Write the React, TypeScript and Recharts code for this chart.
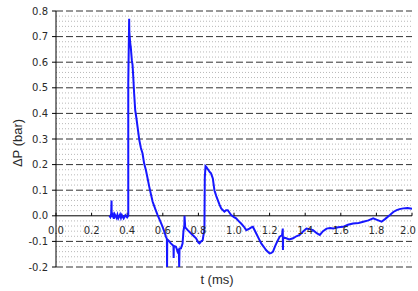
import React from 'react'
import {
  LineChart, Line, XAxis, YAxis, ReferenceLine,
} from 'recharts'

const COLORS = {
  trace: '#1717ff',
  ink: '#000000',
  text: '#2a2a2a',
  major: '#333333',
  minor: '#b8b8b8',
}

// time (ms) and pressure (bar)
const T = [
  0.300, 0.305, 0.310, 0.312, 0.313, 0.320, 0.325, 0.330, 0.340, 0.345,
  0.350, 0.360, 0.365, 0.370, 0.380, 0.390, 0.400, 0.406, 0.406, 0.411,
  0.412, 0.414, 0.417, 0.420, 0.426, 0.430, 0.434, 0.439, 0.445, 0.452,
  0.458, 0.468, 0.477, 0.486, 0.495, 0.505, 0.515, 0.524, 0.533, 0.543,
  0.557, 0.571, 0.585, 0.599, 0.610, 0.618, 0.623, 0.624, 0.625, 0.637,
  0.645, 0.655, 0.660, 0.661, 0.662, 0.674, 0.683, 0.690, 0.692, 0.694,
  0.702, 0.711, 0.716, 0.720, 0.721, 0.722, 0.726, 0.740, 0.759, 0.775,
  0.787, 0.800, 0.806, 0.815, 0.824, 0.832, 0.834, 0.836, 0.840, 0.845,
  0.855, 0.865, 0.871, 0.881, 0.890, 0.900, 0.909, 0.918, 0.928, 0.946,
  0.955, 0.965, 0.975, 0.984, 1.000, 1.012, 1.025, 1.040, 1.055, 1.069,
  1.087, 1.097, 1.106, 1.125, 1.140, 1.153, 1.168, 1.180, 1.200, 1.210,
  1.219, 1.230, 1.238, 1.256, 1.270, 1.274, 1.275, 1.276, 1.294, 1.310,
  1.332, 1.350, 1.369, 1.390, 1.407, 1.425, 1.444, 1.465, 1.482, 1.500,
  1.520, 1.540, 1.557, 1.585, 1.613, 1.640, 1.669, 1.700, 1.726, 1.755,
  1.782, 1.800, 1.829, 1.850, 1.876, 1.895, 1.914, 1.930, 1.951, 1.975,
  2.000,
]
const P = [
  0.000, -0.005, 0.008, 0.060, -0.005, 0.005, -0.012, 0.006, -0.008, 0.004,
  -0.010, 0.005, -0.008, 0.003, -0.010, 0.002, -0.006, 0.000, 0.520, 0.770,
  0.720, 0.700, 0.673, 0.660, 0.608, 0.590, 0.543, 0.478, 0.413, 0.380,
  0.348, 0.296, 0.265, 0.244, 0.205, 0.179, 0.145, 0.113, 0.085, 0.055,
  0.028, 0.003, -0.020, -0.043, -0.065, -0.082, -0.090, -0.200, -0.092, -0.100,
  -0.108, -0.114, -0.118, -0.165, -0.118, -0.121, -0.140, -0.130, -0.200, -0.128,
  -0.127, -0.108, -0.060, -0.043, -0.040, 0.000, -0.045, -0.056, -0.069, -0.080,
  -0.088, -0.105, -0.108, -0.100, -0.095, -0.060, -0.040, 0.150, 0.194, 0.190,
  0.180, 0.170, 0.166, 0.146, 0.100, 0.078, 0.061, 0.045, 0.029, 0.016,
  0.022, 0.022, 0.012, 0.003, -0.005, -0.010, -0.020, -0.030, -0.042, -0.056,
  -0.050, -0.045, -0.043, -0.069, -0.090, -0.108, -0.122, -0.134, -0.147, -0.145,
  -0.140, -0.120, -0.108, -0.082, -0.075, -0.050, -0.134, -0.085, -0.088, -0.092,
  -0.088, -0.080, -0.075, -0.060, -0.050, -0.052, -0.056, -0.068, -0.075, -0.060,
  -0.050, -0.048, -0.050, -0.045, -0.043, -0.035, -0.030, -0.028, -0.023, -0.018,
  -0.010, -0.015, -0.023, -0.012, 0.003, 0.015, 0.022, 0.026, 0.029, 0.030,
  0.028,
]

const X_TICKS = [0, 0.2, 0.4, 0.6, 0.8, 1.0, 1.2, 1.4, 1.6, 1.8, 2.0]
const Y_TICKS = [-0.2, -0.1, 0, 0.1, 0.2, 0.3, 0.4, 0.5, 0.6, 0.7, 0.8]

const data = T.map((t, i) => ({ t, p: P[i] }))

// dotted minor grid, four lines between each major tick
const minorY: number[] = []
Y_TICKS.slice(0, -1).forEach((v) => {
  for (let k = 1; k < 5; k++) minorY.push(+(v + k * 0.02).toFixed(2))
})

const tickFont = { fontFamily: 'DejaVu Sans', fontSize: 10, fill: COLORS.text }

function YTitle({ viewBox }: any) {
  const x = viewBox.x + 17
  const y = viewBox.y + viewBox.height / 2 + 4
  return (
    <text x={x} y={y} transform={`rotate(-90 ${x} ${y})`} textAnchor="middle" dominantBaseline="central"
      style={{ fontFamily: 'Liberation Sans', fontSize: 13, fill: COLORS.text }}>
      ΔP (bar)
    </text>
  )
}

function XTitle({ viewBox }: any) {
  const x = viewBox.x + viewBox.width / 2 - 17
  const y = viewBox.y + 12
  return (
    <text x={x} y={y} textAnchor="middle" dominantBaseline="central"
      style={{ fontFamily: 'Liberation Sans', fontSize: 13, fill: COLORS.text }}>
      t (ms)
    </text>
  )
}

export default function App() {
  return (
    <div style={{ position: 'absolute', left: 0, top: 0, width: 418, height: 291, background: '#fff' }}>
      <LineChart width={418} height={291} data={data} margin={{ top: 11, right: 6, bottom: 0, left: 0 }}>
        <XAxis
          dataKey="t" type="number" domain={[0, 2]} ticks={X_TICKS}
          tick={false} axisLine={false} tickLine={false} height={24}
          label={{ content: <XTitle /> }}
        />
        <YAxis
          type="number" domain={[-0.2, 0.8]} ticks={Y_TICKS} width={56}
          tick={tickFont} tickFormatter={(v: number) => v.toFixed(1)}
          axisLine={{ stroke: COLORS.ink }} tickLine={{ stroke: COLORS.ink }}
          tickSize={4} tickMargin={4}
          label={{ content: <YTitle /> }}
        />
        {minorY.map((v) => (
          <ReferenceLine key={'m' + v} y={v} stroke={COLORS.minor} strokeDasharray="1 2" />
        ))}
        {Y_TICKS.filter((v) => v !== 0).map((v) => (
          <ReferenceLine key={'M' + v} y={v} stroke={COLORS.major} strokeDasharray="7 3" />
        ))}
        <ReferenceLine y={0} stroke={COLORS.ink} />
        {X_TICKS.map((v, i) => (
          <ReferenceLine
            key={'x' + v}
            segment={[{ x: v, y: 0 }, { x: v, y: 0.012 }]}
            stroke={COLORS.ink}
            label={{
              value: v.toFixed(1), position: 'bottom', offset: 11,
              dx: i === X_TICKS.length - 1 ? -4 : 0, ...tickFont,
            }}
          />
        ))}
        <Line
          type="linear" dataKey="p" stroke={COLORS.trace} strokeWidth={2}
          dot={false} isAnimationActive={false}
        />
      </LineChart>
    </div>
  )
}
